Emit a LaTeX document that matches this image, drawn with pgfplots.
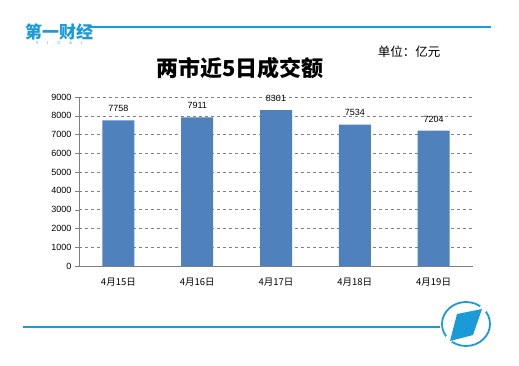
\documentclass[border=0pt]{standalone}
\usepackage{pgfplots}
\pgfplotsset{compat=1.18}
\usepackage{fontspec}
\setmainfont{Liberation Sans}
\newfontfamily\cjk{Noto Sans CJK SC}
\definecolor{barblue}{HTML}{4F81BD}
\definecolor{brand}{HTML}{1A9AD6}
\begin{document}
\begin{tikzpicture}[x=1pt,y=1pt]
\useasboundingbox (0,0) rectangle (519,365);
% decorations
\draw[brand,line width=1.6pt] (88,338) -- (491,338);
\draw[brand,line width=1.6pt] (23,38) -- (440,38);
\node[brand,font=\cjk\bfseries\fontsize{17}{17}\selectfont,inner sep=0] at (59,333) {第一财经};
\node[brand,font=\fontsize{4}{4}\selectfont,inner sep=0] at (59,322) {Y\hspace{9pt}I\hspace{9pt}C\hspace{9pt}A\hspace{9pt}I};
\draw[brand,line width=1.8pt] (466,41) ellipse [x radius=24, y radius=22];
\fill[white] (483,56) circle (4);
\fill[white] (449,26) circle (4);
\fill[brand] (457,51) -- (482,56) -- (473,30) -- (450,24) -- cycle;
% titles
\node[font=\cjk\bfseries\fontsize{22}{22}\selectfont,inner sep=0] at (240,297) {两市近5日成交额};
\node[font=\cjk\fontsize{12.5}{12.5}\selectfont,inner sep=0] at (409,313) {单位：亿元};
\begin{axis}[
  at={(79pt,99pt)}, anchor=south west,
  scale only axis, width=394pt, height=169pt,
  xmin=-0.5, xmax=4.5, ymin=0, ymax=9000,
  ytick={0,1000,...,9000},
  xtick={0,1,2,3,4},
  xticklabels={4月15日,4月16日,4月17日,4月18日,4月19日},
  xticklabel style={font=\cjk\fontsize{9.5}{9.5}\selectfont, yshift=-8pt},
  yticklabel style={font=\fontsize{9}{9}\selectfont},
  /pgf/number format/assume math mode=true,
  /pgf/number format/set thousands separator={},
  extra x ticks={-0.5,0.5,1.5,2.5,3.5,4.5},
  extra x tick labels={},
  extra x tick style={major tick length=4pt, tick style={gray}, tick align=outside, grid=none},
  major x tick style={draw=none},
  ytick style={gray}, ytick align=outside, major tick length=4pt,
  axis x line*=bottom, axis y line*=left,
  axis line style={gray, -},
  ymajorgrids, grid style={gray, dashed},
  enlargelimits=false,
  nodes near coords,
  nodes near coords style={font=\fontsize{9}{9}\selectfont, black, yshift=5pt},
  clip=false,
]
\addplot[ybar, bar width=32pt, fill=barblue, draw=none] coordinates {(0,7758) (1,7911) (2,8301) (3,7534) (4,7204)};
\end{axis}
\end{tikzpicture}
\end{document}
